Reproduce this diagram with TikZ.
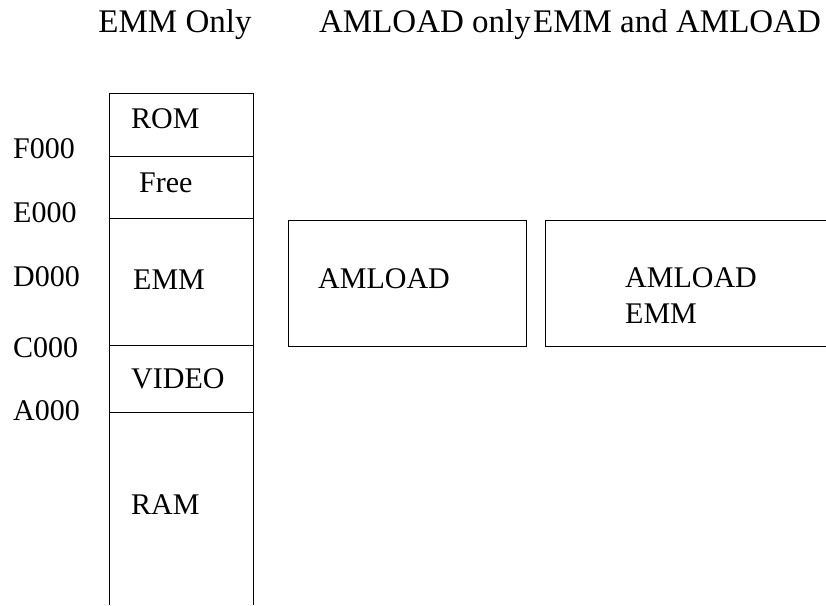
\documentclass[tikz,border=0pt]{standalone}
\usepackage{fontspec}
\setmainfont{Liberation Serif}
\usetikzlibrary{positioning}
\tikzset{
  maptext/.style={anchor=base west, inner sep=0pt, font=\fontsize{30}{34}\selectfont},
  coltitle/.style={anchor=base, inner sep=0pt, font=\fontsize{33}{38}\selectfont},
  memline/.style={line width=1pt}
}
\begin{document}
\begin{tikzpicture}[x=1pt,y=-1pt]
    \useasboundingbox (0,0) rectangle (826,605);

    % Column titles
    \node[coltitle] (emmonly) at (175,32) {EMM Only};
    \node[coltitle] (amlonly) at (425,32) {AMLOAD only};
    \node[coltitle] (both) at (677,32) {EMM and AMLOAD};

    % Memory map (EMM only)
    \draw[memline] (109,605) -- (109,93) -- (253,93) -- (253,605);
    \draw[memline] (109,156) -- (253,156);
    \draw[memline] (109,218) -- (253,218);
    \draw[memline] (109,345) -- (253,345);
    \draw[memline] (109,412) -- (253,412);

    \node[maptext] (rom) at (131,128) {ROM};
    \node[maptext] (free) at (139,192) {Free};
    \node[maptext] (emm) at (133,289) {EMM};
    \node[maptext] (video) at (131,388) {VIDEO};
    \node[maptext] (ram) at (131,514) {RAM};

    % Address labels
    \node[maptext] (f000) at (13,158) {F000};
    \node[maptext] (e000) at (13,222) {E000};
    \node[maptext] (d000) at (13,286) {D000};
    \node[maptext] (c000) at (13,357) {C000};
    \node[maptext] (a000) at (13,420) {A000};

    % AMLOAD only
    \draw[memline] (288,220) rectangle (526,346);
    \node[maptext] (aml) at (318,288) {AMLOAD};

    % EMM and AMLOAD
    \draw[memline] (830,220) -- (545,220) -- (545,346) -- (830,346);
    \node[maptext] (aml2) at (625,287) {AMLOAD};
    \node[maptext] (emm2) at (625,323) {EMM};

\end{tikzpicture}
\end{document}
